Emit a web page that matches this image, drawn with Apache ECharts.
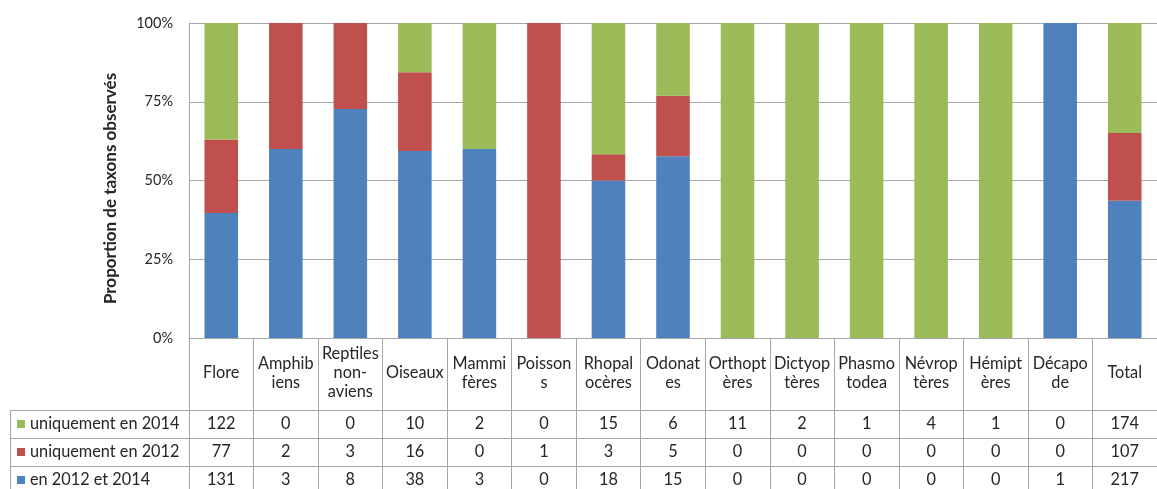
<!DOCTYPE html>
<html>
<head>
<meta charset="utf-8">
<script src="https://cdn.jsdelivr.net/npm/echarts@6/dist/echarts.min.js"></script>
<style>html,body{margin:0;padding:0;background:#fff;}#c{width:1157px;height:489px;}</style>
</head>
<body>
<div id="c"></div>
<script>
var categories = ['Flore', 'Amphib\niens', 'Reptiles\nnon-\naviens', 'Oiseaux', 'Mammi\nfères', 'Poisson\ns', 'Rhopal\nocères', 'Odonat\nes', 'Orthopt\nères', 'Dictyop\ntères', 'Phasmo\ntodea', 'Névrop\ntères', 'Hémipt\nères', 'Décapo\nde', 'Total'];
var only2014 = [122, 0, 0, 10, 2, 0, 15, 6, 11, 2, 1, 4, 1, 0, 174];
var only2012 = [77, 2, 3, 16, 0, 1, 3, 5, 0, 0, 0, 0, 0, 0, 107];
var both = [131, 3, 8, 38, 3, 0, 18, 15, 0, 0, 0, 0, 0, 1, 217];
var seriesNames = ['en 2012 et 2014', 'uniquement en 2012', 'uniquement en 2014'];
var legendOrder = ['uniquement en 2014', 'uniquement en 2012', 'en 2012 et 2014'];

var totals = categories.map(function (c, i) { return only2014[i] + only2012[i] + both[i]; });
function pct(arr) { return arr.map(function (v, i) { return totals[i] ? v / totals[i] * 100 : 0; }); }

var FONT = 'Lato';
var FS = 16.3;
var TXT = '#262626';
var LINE = '#A6A6A6';
var colors = { both: '#4F81BD', r2012: '#C0504D', r2014: '#9BBB59' };

var chart = echarts.init(document.getElementById('c'), null, { renderer: 'canvas' });

function rowAxis(row, offset) {
  return {
    type: 'category', data: categories, position: 'bottom', offset: offset,
    axisLine: { show: true, lineStyle: { color: LINE, width: 1 } },
    axisTick: { show: false },
    axisLabel: {
      interval: 0, margin: 14, verticalAlign: 'middle', color: TXT,
      fontFamily: FONT, fontSize: FS,
      formatter: function (v, i) { return String(row[i]); }
    },
    splitLine: { show: false }
  };
}

function legendRow(name, top) {
  return {
    orient: 'vertical', left: 17, top: top, padding: 0,
    data: [name],
    icon: 'rect', itemWidth: 8, itemHeight: 8,
    textStyle: { fontFamily: FONT, fontSize: FS, color: TXT, lineHeight: 18 },
    selectedMode: false
  };
}

var option = {
  animation: false,
  backgroundColor: '#fff',
  grid: { left: 189, top: 23, width: 982, height: 315, containLabel: false },
  legend: [
    legendRow(legendOrder[0], 415),
    legendRow(legendOrder[1], 443),
    legendRow(legendOrder[2], 471)
  ],
  xAxis: [
    {
      type: 'category', data: categories, position: 'bottom',
      axisLine: { show: true, lineStyle: { color: LINE } },
      axisTick: { show: true, interval: 0, length: 170, lineStyle: { color: LINE } },
      axisLabel: {
        interval: 0, margin: 35, verticalAlign: 'middle', align: 'center',
        lineHeight: 19, color: TXT, fontFamily: FONT, fontSize: FS
      }
    },
    rowAxis(only2014, 72),
    rowAxis(only2012, 100),
    rowAxis(both, 128)
  ],
  yAxis: {
    type: 'value', min: 0, max: 100, interval: 25,
    name: 'Proportion de taxons observés', nameLocation: 'middle', nameGap: 70, nameRotate: 90,
    nameTextStyle: { fontFamily: FONT, fontSize: 17, fontWeight: 'bold', color: TXT, padding: [0, 16, 0, 0] },
    axisLine: { show: true, lineStyle: { color: LINE } },
    axisTick: { show: false },
    axisLabel: { margin: 16, fontFamily: FONT, fontSize: 14.5, color: TXT, formatter: '{value}%' },
    splitLine: { show: true, lineStyle: { color: LINE, width: 1 } }
  },
  graphic: [
    { type: 'line', shape: { x1: 10, y1: 410.5, x2: 189, y2: 410.5 }, style: { stroke: LINE, lineWidth: 1 } },
    { type: 'line', shape: { x1: 10, y1: 438.5, x2: 189, y2: 438.5 }, style: { stroke: LINE, lineWidth: 1 } },
    { type: 'line', shape: { x1: 10, y1: 466.5, x2: 189, y2: 466.5 }, style: { stroke: LINE, lineWidth: 1 } },
    { type: 'line', shape: { x1: 10.5, y1: 410, x2: 10.5, y2: 489 }, style: { stroke: LINE, lineWidth: 1 } }
  ],
  series: [
    { name: seriesNames[0], type: 'bar', stack: 's', data: pct(both), barWidth: '52%', itemStyle: { color: colors.both } },
    { name: seriesNames[1], type: 'bar', stack: 's', data: pct(only2012), barWidth: '52%', itemStyle: { color: colors.r2012 } },
    { name: seriesNames[2], type: 'bar', stack: 's', data: pct(only2014), barWidth: '52%', itemStyle: { color: colors.r2014 } }
  ]
};
chart.setOption(option);
</script>
</body>
</html>
